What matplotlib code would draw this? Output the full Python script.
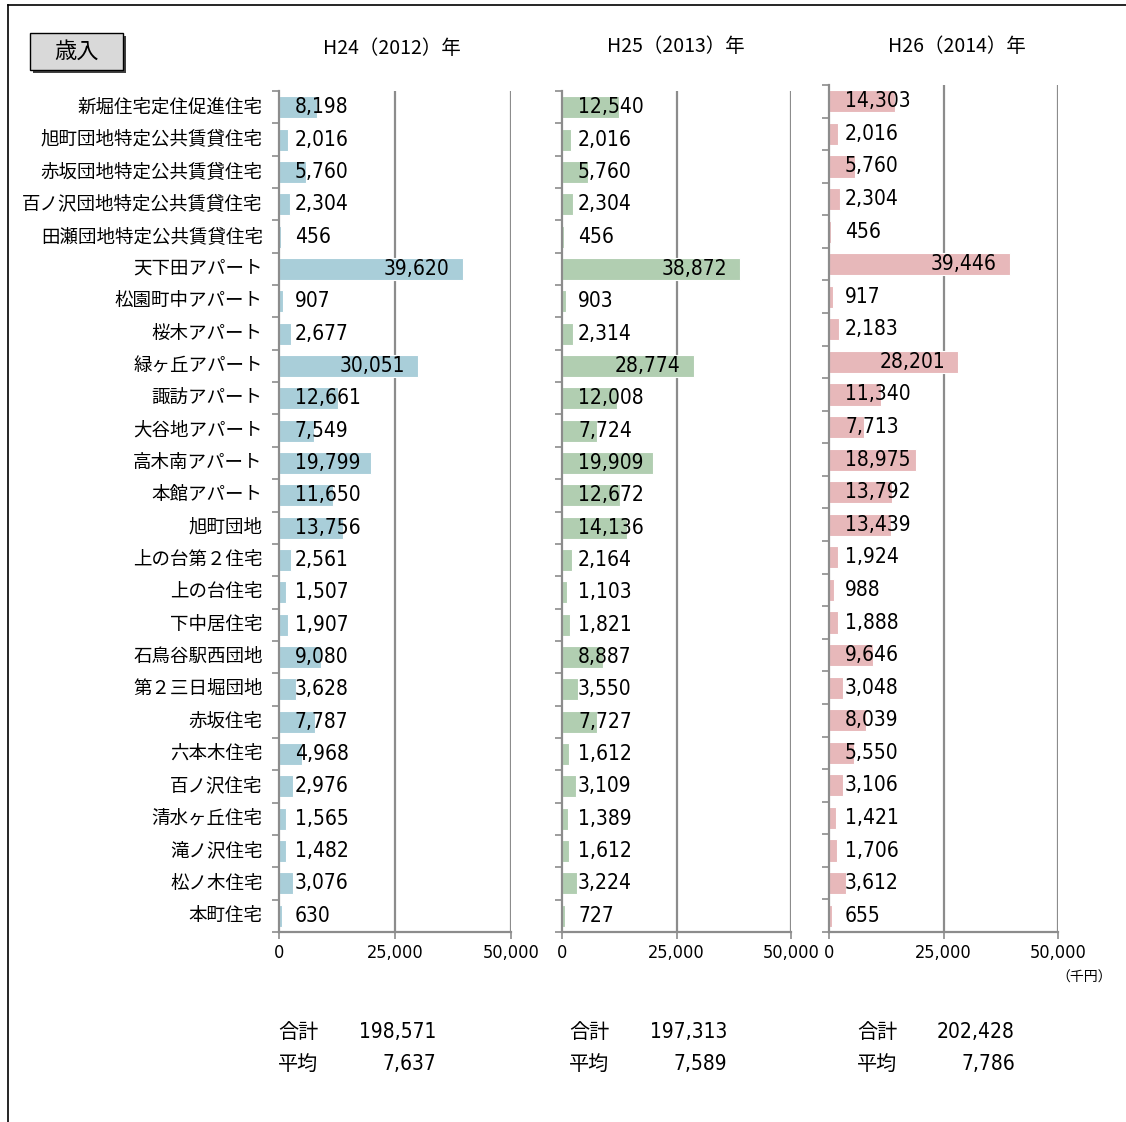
import matplotlib
matplotlib.use("Agg")
import matplotlib.pyplot as plt
from matplotlib import font_manager
from matplotlib.patches import Rectangle
from matplotlib.lines import Line2D

plt.rcParams['font.family'] = ['Noto Sans CJK JP', 'DejaVu Sans']

cond = [f for f in font_manager.fontManager.ttflist
        if f.name == 'DejaVu Sans' and str(f.stretch) in ('condensed', 'semi-condensed', '87.5', '75')
        and f.weight in (400, 'normal') and f.style == 'normal']
if cond:
    NUMKW = dict(family=['DejaVu Sans'], fontstretch='condensed')
else:
    NUMKW = dict(family=['Noto Sans CJK JP'])

categories = ["新堀住宅定住促進住宅", "旭町団地特定公共賃貸住宅", "赤坂団地特定公共賃貸住宅",
              "百ノ沢団地特定公共賃貸住宅", "田瀬団地特定公共賃貸住宅", "天下田アパート",
              "松園町中アパート", "桜木アパート", "緑ヶ丘アパート", "諏訪アパート",
              "大谷地アパート", "高木南アパート", "本館アパート", "旭町団地",
              "上の台第２住宅", "上の台住宅", "下中居住宅", "石鳥谷駅西団地",
              "第２三日堀団地", "赤坂住宅", "六本木住宅", "百ノ沢住宅",
              "清水ヶ丘住宅", "滝ノ沢住宅", "松ノ木住宅", "本町住宅"]

h24 = [8198, 2016, 5760, 2304, 456, 39620, 907, 2677, 30051, 12661, 7549, 19799, 11650,
       13756, 2561, 1507, 1907, 9080, 3628, 7787, 4968, 2976, 1565, 1482, 3076, 630]
h25 = [12540, 2016, 5760, 2304, 456, 38872, 903, 2314, 28774, 12008, 7724, 19909, 12672,
       14136, 2164, 1103, 1821, 8887, 3550, 7727, 1612, 3109, 1389, 1612, 3224, 727]
h26 = [14303, 2016, 5760, 2304, 456, 39446, 917, 2183, 28201, 11340, 7713, 18975, 13792,
       13439, 1924, 988, 1888, 9646, 3048, 8039, 5550, 3106, 1421, 1706, 3612, 655]

titles = ["H24（2012）年", "H25（2013）年", "H26（2014）年"]
totals = ["198,571", "197,313", "202,428"]
averages = ["7,637", "7,589", "7,786"]
xticks = [0, 25000, 50000]
xticklabels = ["0", "25,000", "50,000"]

colors = ["#A9CED9", "#B1CEB1", "#E7B8BA"]

W, H = 1126, 1122
fig = plt.figure(figsize=(W / 100, H / 100), dpi=100)

def fx(px):
    return px / W

def fy(py):
    return 1 - py / H

# outer frame
fig.add_artist(Line2D([fx(8), fx(8)], [fy(5), fy(1122)], color="black", lw=1.2, transform=fig.transFigure))
fig.add_artist(Line2D([fx(8), fx(1126)], [fy(5), fy(5)], color="black", lw=1.2, transform=fig.transFigure))

# 歳入 box
fig.add_artist(Rectangle((fx(33), fy(73)), fx(93), (37) / H, transform=fig.transFigure,
                         facecolor="#404040", edgecolor="none"))
fig.add_artist(Rectangle((fx(30), fy(70)), fx(93), (37) / H, transform=fig.transFigure,
                         facecolor="#D9D9D9", edgecolor="black", lw=1.0))
fig.text(fx(77), fy(51), "歳入", ha="center", va="center", fontsize=16)

panels = [
    (279, 511, 91, 932, 392, 49, 278, 436),
    (562, 791, 91, 932, 676, 46, 569, 727),
    (829, 1058, 85, 932, 957, 46, 857, 1015),
]
series = [h24, h25, h26]

fig.canvas.draw()
renderer = fig.canvas.get_renderer()

for i, (l, r, t, b, tx, ty, sx, vx) in enumerate(panels):
    ax = fig.add_axes([fx(l), fy(b), (r - l) / W, (b - t) / H])
    vals = series[i]
    y = list(range(len(categories)))
    ax.barh(y, vals, height=0.68, color=colors[i], edgecolor="white", linewidth=0.8, zorder=2)
    ax.set_xlim(0, 50000)
    ax.set_ylim(len(categories) - 0.5, -0.5)
    ax.set_xticks(xticks)
    ax.set_xticklabels(xticklabels, fontsize=13, **NUMKW)
    for v in [25000, 50000]:
        ax.axvline(v, color="#8C8C8C", lw=1.6, zorder=1)
    for s in ["top", "right"]:
        ax.spines[s].set_visible(False)
    ax.spines["left"].set_color("#8C8C8C")
    ax.spines["bottom"].set_color("#8C8C8C")
    ax.spines["left"].set_linewidth(1.6)
    ax.spines["bottom"].set_linewidth(1.6)
    ax.tick_params(axis="x", length=5, color="#8C8C8C", width=1.2, pad=4)
    ax.set_yticks([k - 0.5 for k in range(len(categories) + 1)])
    ax.set_yticklabels([])
    ax.tick_params(axis="y", length=5, color="#8C8C8C", width=1.2)
    if i == 0:
        for k, c in enumerate(categories):
            ax.text(-0.07, k, c, transform=ax.get_yaxis_transform(), ha="right", va="center",
                    fontsize=13.3)
    # value labels: inside end, but never starting left of a fixed inset
    scale = 50000 / (r - l)
    for k, v in enumerate(vals):
        lbl = f"{v:,}"
        txt = ax.text(16 * scale, k, lbl, ha="left", va="center", fontsize=15,
                      zorder=3, **NUMKW)
        wpx = txt.get_window_extent(renderer=renderer).width
        bar_end_px = v / scale
        if bar_end_px - 13 - wpx > 16:
            txt.set_x(v - 13 * scale)
            txt.set_ha("right")
    fig.text(fx(tx), fy(ty), titles[i], ha="center", va="center", fontsize=14)
    fig.text(fx(sx), fy(1032), "合計", ha="left", va="center", fontsize=14.5)
    fig.text(fx(sx), fy(1064), "平均", ha="left", va="center", fontsize=14.5)
    fig.text(fx(vx), fy(1032), totals[i], ha="right", va="center", fontsize=15, **NUMKW)
    fig.text(fx(vx), fy(1064), averages[i], ha="right", va="center", fontsize=15, **NUMKW)

fig.text(fx(1084), fy(978), "（千円）", ha="center", va="center", fontsize=10)

fig.savefig("out.png", dpi=100)
